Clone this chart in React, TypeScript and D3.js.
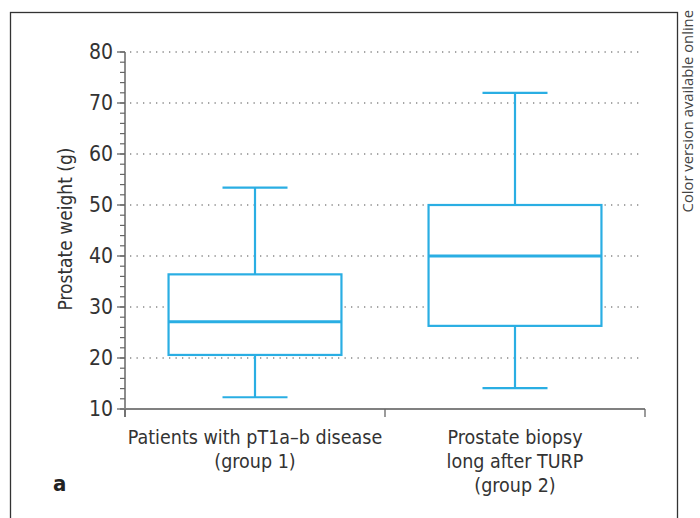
import React from "react";
import * as d3 from "d3";

const categories = ["group1", "group2"];
const categoryLabels = [
  ["Patients with pT1a–b disease", "(group 1)"],
  ["Prostate biopsy", "long after TURP", "(group 2)"],
];
const whiskerLow = [12.3, 14.1];
const q1 = [20.6, 26.3];
const median = [27.1, 40];
const q3 = [36.4, 50];
const whiskerHigh = [53.4, 72];
const yTicks = [10, 20, 30, 40, 50, 60, 70, 80];

const W = 700;
const H = 518;
const BLUE = "#2aaee3";
const FONT = "'Liberation Sans Narrow', 'DejaVu Sans Condensed', 'Open Sans', sans-serif";

export default function App() {
  const y = d3.scaleLinear().domain([10, 80]).range([409, 52]);
  const x = d3.scaleBand<string>().domain(categories).range([125, 645]).padding(0);
  const bw = x.bandwidth();
  const boxW = bw * 0.665;
  const capW = bw * 0.25;
  const minor = d3.range(10, 80.1, 2);

  return (
    <svg width={W} height={H} style={{ position: "absolute", left: 0, top: 0, background: "#fff" }}>
      <rect x={10.5} y={12.5} width={667} height={520} fill="#fff" stroke="#333" strokeWidth={1.3} />
      <text
        transform={`translate(693,${10}) rotate(-90)`}
        textAnchor="end"
        fontFamily="'Open Sans', sans-serif"
        fontSize={14.8}
        fill="#444"
      >
        Color version available online
      </text>

      {/* gridlines */}
      {yTicks.filter((t) => t > 10).map((t) => (
        <line
          key={"g" + t}
          x1={130}
          x2={642}
          y1={y(t)}
          y2={y(t)}
          stroke="#888"
          strokeWidth={1.3}
          strokeDasharray="1.3,5.2"
        />
      ))}

      {/* y axis */}
      <line x1={125} x2={125} y1={y(80)} y2={417} stroke="#666" strokeWidth={1.5} />
      {minor.map((t) => (
        <line key={"m" + t} x1={120} x2={125} y1={y(t)} y2={y(t)} stroke="#666" strokeWidth={1.2} />
      ))}
      {yTicks.map((t) => (
        <g key={"t" + t}>
          <line x1={117} x2={125} y1={y(t)} y2={y(t)} stroke="#666" strokeWidth={1.3} />
          <text x={113} y={y(t)} dy="0.35em" textAnchor="end" fontFamily={FONT} fontSize={21} fill="#333">
            {t}
          </text>
        </g>
      ))}
      <text
        transform={`translate(72,${229}) rotate(-90)`}
        textAnchor="middle"
        fontFamily={FONT}
        fontSize={19}
        fill="#333"
      >
        Prostate weight (g)
      </text>

      {/* x axis */}
      <line x1={124} x2={645} y1={409} y2={409} stroke="#808080" strokeWidth={2} />
      {[125, 385, 645].map((v) => (
        <line key={"xt" + v} x1={v} x2={v} y1={409} y2={417} stroke="#666" strokeWidth={1.3} />
      ))}

      {/* boxes */}
      {categories.map((c, i) => {
        const cx = (x(c) as number) + bw / 2;
        return (
          <g key={c} stroke={BLUE} fill="none">
            <line x1={cx} x2={cx} y1={y(whiskerHigh[i])} y2={y(q3[i])} strokeWidth={2.2} />
            <line x1={cx} x2={cx} y1={y(q1[i])} y2={y(whiskerLow[i])} strokeWidth={2.2} />
            <line x1={cx - capW / 2} x2={cx + capW / 2} y1={y(whiskerHigh[i])} y2={y(whiskerHigh[i])} strokeWidth={2.2} />
            <line x1={cx - capW / 2} x2={cx + capW / 2} y1={y(whiskerLow[i])} y2={y(whiskerLow[i])} strokeWidth={2.2} />
            <rect
              x={cx - boxW / 2}
              y={y(q3[i])}
              width={boxW}
              height={y(q1[i]) - y(q3[i])}
              fill="#fff"
              strokeWidth={2.2}
            />
            <line x1={cx - boxW / 2} x2={cx + boxW / 2} y1={y(median[i])} y2={y(median[i])} strokeWidth={3} />
          </g>
        );
      })}

      {/* category labels */}
      {categories.map((c, i) => {
        const cx = (x(c) as number) + bw / 2;
        return (
          <text key={"l" + c} textAnchor="middle" fontFamily={FONT} fontSize={19.5} fill="#333">
            {categoryLabels[i].map((s, j) => (
              <tspan key={j} x={cx} y={444 + j * 24}>
                {s}
              </tspan>
            ))}
          </text>
        );
      })}
      <text x={53} y={491} fontFamily={FONT} fontSize={22} fontWeight="bold" fill="#222">
        a
      </text>
    </svg>
  );
}
